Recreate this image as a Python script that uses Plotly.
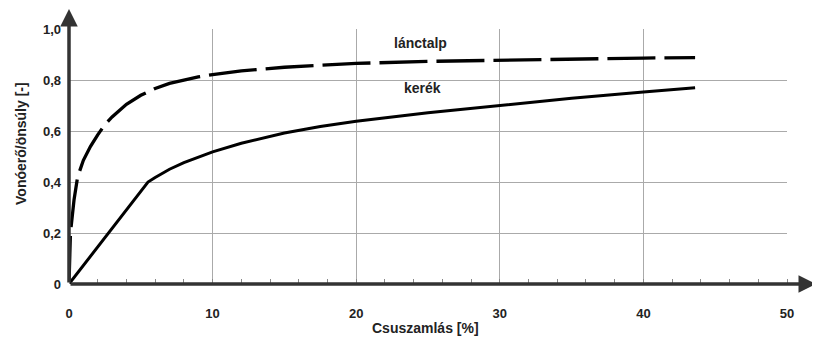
import plotly.graph_objects as go

# Data
lanc_x = [0, 0.1, 0.35, 0.6, 1.0, 1.5, 2, 2.5, 3, 4, 5, 6, 7, 8, 9, 10, 12, 15, 17.5, 20, 25, 30, 35, 40, 43.6]
lanc_y = [0, 0.20, 0.33, 0.42, 0.485, 0.54, 0.585, 0.625, 0.655, 0.705, 0.74, 0.767, 0.787, 0.801, 0.812, 0.821, 0.836, 0.85, 0.858, 0.865, 0.873, 0.878, 0.882, 0.886, 0.888]

kerek_x = [0, 5.5, 6, 7, 8, 10, 12, 15, 17.5, 20, 25, 30, 35, 40, 43.6]
kerek_y = [0, 0.40, 0.418, 0.45, 0.476, 0.518, 0.552, 0.592, 0.618, 0.638, 0.672, 0.70, 0.728, 0.753, 0.77]

x_ticks = [0, 10, 20, 30, 40, 50]
y_ticks = [0, 0.2, 0.4, 0.6, 0.8, 1.0]
y_tick_text = ["0", "0,2", "0,4", "0,6", "0,8", "1,0"]

label_lanc = "lánctalp"
label_kerek = "kerék"
x_title = "Csuszamlás [%]"
y_title = "Vonóerő/önsúly [-]"

FONT = "Liberation Sans, Arial, sans-serif"
TXT = "#222"

fig = go.Figure()
fig.add_trace(go.Scatter(x=lanc_x, y=lanc_y, mode="lines",
                         line=dict(color="black", width=3.3, dash="48px,9px"),
                         showlegend=False, hoverinfo="skip"))
fig.add_trace(go.Scatter(x=kerek_x, y=kerek_y, mode="lines",
                         line=dict(color="black", width=3),
                         showlegend=False, hoverinfo="skip"))

fig.update_layout(
    width=812, height=330,
    margin=dict(l=61, r=33, t=21, b=54),
    paper_bgcolor="white", plot_bgcolor="white",
    font=dict(family=FONT, size=13, color=TXT),
    xaxis=dict(range=[0, 50], tickvals=x_ticks, ticktext=[str(v) for v in x_ticks],
               showgrid=True, gridcolor="#aaaaaa", gridwidth=1,
               zeroline=False, showline=False, ticks="", automargin=False,
               minor=dict(dtick=2, ticks="inside", ticklen=5, tickcolor="#888", showgrid=False),
               tickfont=dict(family=FONT, size=13, weight="bold", color=TXT),
               ticklabelstandoff=20),
    yaxis=dict(range=[0, 1], tickvals=y_ticks, ticktext=y_tick_text,
               showgrid=True, gridcolor="#aaaaaa", gridwidth=1,
               zeroline=False, showline=False, ticks="", automargin=False,
               tickfont=dict(family=FONT, size=13, weight="bold", color=TXT),
               ticklabelstandoff=7),
)

# Axis lines with arrows
fig.add_annotation(xref="paper", yref="paper", x=1.0404, y=0, ax=-747, ay=0,
                   axref="pixel", ayref="pixel", text="", showarrow=True,
                   arrowhead=2, arrowsize=1, arrowwidth=3.5, arrowcolor="#333")
fig.add_annotation(xref="paper", yref="paper", x=0, y=1.078, ax=0, ay=275,
                   axref="pixel", ayref="pixel", text="", showarrow=True,
                   arrowhead=2, arrowsize=1, arrowwidth=3.5, arrowcolor="#333")

# Axis titles
fig.add_annotation(xref="paper", yref="paper", x=0.497, y=-0.174, text=x_title,
                   showarrow=False, xanchor="center", yanchor="middle",
                   font=dict(family=FONT, size=14, weight="bold", color=TXT))
fig.add_annotation(xref="paper", yref="paper", x=-0.0669, y=0.553, text=y_title,
                   showarrow=False, xanchor="center", yanchor="middle", textangle=-90,
                   font=dict(family=FONT, size=14, weight="bold", color=TXT))

# Curve labels
fig.add_annotation(x=24.5, y=0.945, text=label_lanc, showarrow=False,
                   font=dict(family=FONT, size=14, weight="bold", color=TXT))
fig.add_annotation(x=24.6, y=0.769, text=label_kerek, showarrow=False,
                   font=dict(family=FONT, size=14, weight="bold", color=TXT))

fig.write_html("out.html")
